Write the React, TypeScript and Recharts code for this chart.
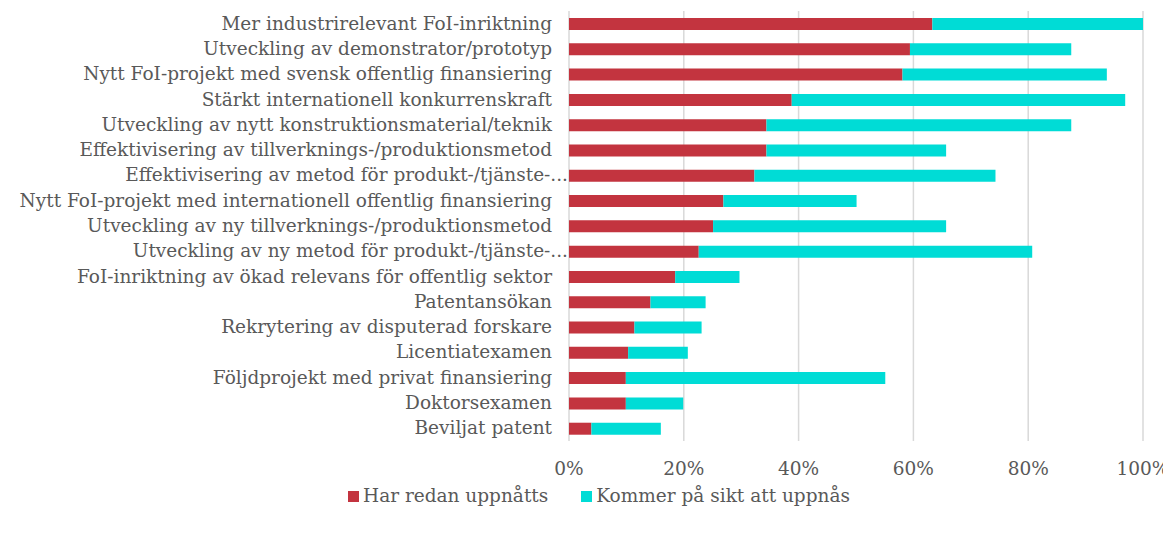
import React from "react";
import { BarChart, Bar, XAxis, YAxis, CartesianGrid, Legend } from "recharts";

const categories = [
  "Mer industrirelevant FoI-inriktning",
  "Utveckling av demonstrator/prototyp",
  "Nytt FoI-projekt med svensk offentlig finansiering",
  "Stärkt internationell konkurrenskraft",
  "Utveckling av nytt konstruktionsmaterial/teknik",
  "Effektivisering av tillverknings-/produktionsmetod",
  "Effektivisering av metod för produkt-/tjänste-...",
  "Nytt FoI-projekt med internationell offentlig finansiering",
  "Utveckling av ny tillverknings-/produktionsmetod",
  "Utveckling av ny metod för produkt-/tjänste-...",
  "FoI-inriktning av ökad relevans för offentlig sektor",
  "Patentansökan",
  "Rekrytering av disputerad forskare",
  "Licentiatexamen",
  "Följdprojekt med privat finansiering",
  "Doktorsexamen",
  "Beviljat patent",
];

const harRedanUppnatts = [63.3, 59.4, 58.1, 38.8, 34.4, 34.4, 32.3, 26.9, 25.1, 22.6, 18.5, 14.2, 11.4, 10.3, 9.9, 9.9, 3.9];
const kommerPaSikt = [36.7, 28.1, 35.6, 58.1, 53.1, 31.3, 42.0, 23.2, 40.6, 58.1, 11.2, 9.6, 11.7, 10.4, 45.2, 10.0, 12.1];

const xTicks = [0, 20, 40, 60, 80, 100];

const seriesNames = ["Har redan uppnåtts", "Kommer på sikt att uppnås"];
const RED = "#C3343F";
const CYAN = "#00DCD6";
const FONT = "'DejaVu Serif', serif";
const TEXT = "#595959";
const FS = 18.5;

const data = categories.map((c, i) => ({
  name: c,
  a: harRedanUppnatts[i],
  b: kommerPaSikt[i],
}));

const YTick = (props: any) => {
  const { x, y, payload } = props;
  const truncated = String(payload.value).endsWith("...");
  return (
    <text
      x={x + (truncated ? 16 : 0)}
      y={y}
      dy={6}
      textAnchor="end"
      fill={TEXT}
      fontFamily={FONT}
      fontSize={FS}
    >
      {payload.value}
    </text>
  );
};

const LegendContent = () => (
  <div
    style={{
      display: "flex",
      justifyContent: "center",
      alignItems: "center",
      fontFamily: FONT,
      fontSize: FS,
      color: TEXT,
      paddingLeft: 47,
      lineHeight: "22px",
    }}
  >
    {[RED, CYAN].map((col, i) => (
      <div key={i} style={{ display: "flex", alignItems: "center", marginRight: i === 0 ? 33 : 0 }}>
        <span style={{ display: "inline-block", width: 11, height: 11, background: col, marginRight: 4 }} />
        <span>{seriesNames[i]}</span>
      </div>
    ))}
  </div>
);

export default function App() {
  return (
    <BarChart
      width={1163}
      height={525}
      data={data}
      layout="vertical"
      margin={{ top: 3, right: 28, left: 0, bottom: 30 }}
      barCategoryGap={0}
    >
      <CartesianGrid horizontal={false} stroke="#d9d9d9" strokeWidth={1.5} />
      <XAxis
        type="number"
        domain={[0, 100]}
        ticks={xTicks}
        tickFormatter={(v: number) => `${v}%`}
        axisLine={false}
        tickLine={false}
        tickMargin={15}
        height={40}
        tick={{ fill: TEXT, fontFamily: FONT, fontSize: FS }}
      />
      <YAxis
        type="category"
        dataKey="name"
        width={561}
        axisLine={false}
        tickLine={false}
        interval={0}
        tick={<YTick />}
        tickMargin={11}
      />
      <Legend content={<LegendContent />} wrapperStyle={{ top: 477 }} />
      <Bar dataKey="a" name={seriesNames[0]} stackId="s" fill={RED} barSize={12} isAnimationActive={false} />
      <Bar dataKey="b" name={seriesNames[1]} stackId="s" fill={CYAN} barSize={12} isAnimationActive={false} />
    </BarChart>
  );
}
